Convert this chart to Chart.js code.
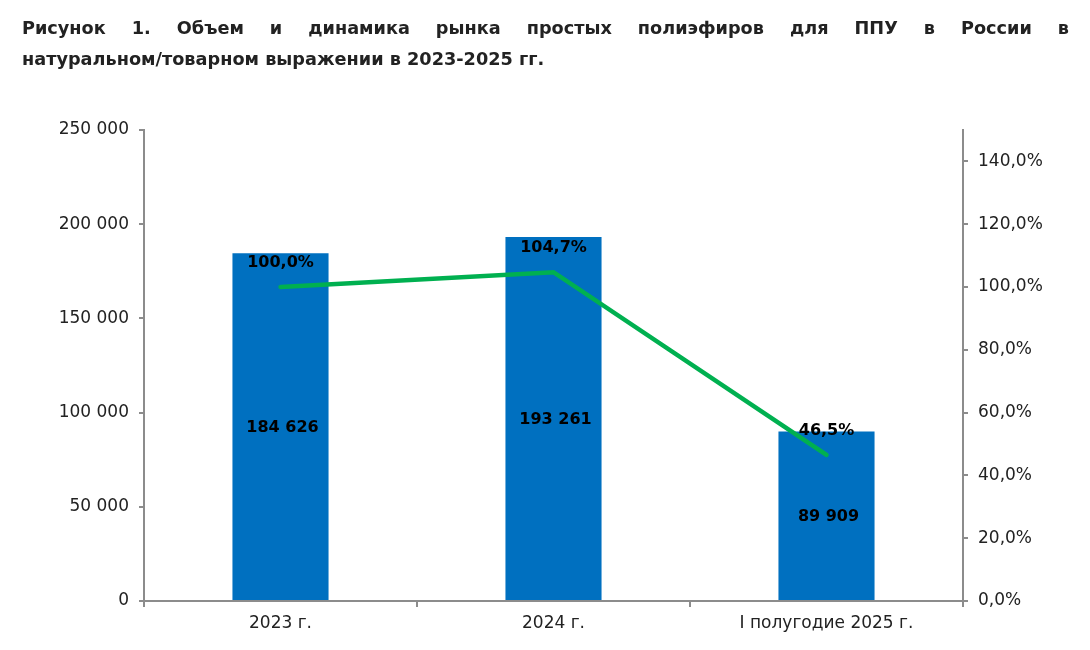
<!DOCTYPE html>
<html>
<head>
    <meta charset="utf-8">
    <title>Рынок простых полиэфиров</title>
    <style>
        body { margin: 0; background: #fff; }
        #wrap { position: relative; width: 1090px; height: 650px; }
        #title {
            position: absolute; left: 22px; top: 13px; width: 1047px;
            font-family: "DejaVu Sans", sans-serif; font-weight: bold; font-size: 17.7px;
            line-height: 31px; color: #222;
        }
        #title .l1 { text-align: justify; text-align-last: justify; }
        #myChart { position: absolute; left: 0; top: 0; }
    </style>
</head>
<body>
    <div id="wrap">
        <canvas id="myChart" width="1090" height="650"></canvas>
        <div id="title">
            <div class="l1">Рисунок 1. Объем и динамика рынка простых полиэфиров для ППУ в России в</div>
            <div>натуральном/товарном выражении в 2023-2025 гг.</div>
        </div>
    </div>
    <script src="https://cdn.jsdelivr.net/npm/chart.js"></script>
    <script>
        const categories = ['2023 г.', '2024 г.', 'I полугодие 2025 г.'];
        const volume = [184626, 193261, 89909];
        const dynamics = [100.0, 104.7, 46.5];

        const fontFamily = '"DejaVu Sans", sans-serif';
        const axisColor = '#8c8c8c';

        const fmtNum = (v) => String(v).replace(/\B(?=(\d{3})+(?!\d))/g, ' ');
        const fmtPct = (v) => v.toFixed(1).replace('.', ',') + '%';

        // labels on bars and above the line
        const valueLabels = {
            id: 'valueLabels',
            afterDatasetsDraw(chart) {
                const ctx = chart.ctx;
                ctx.save();
                ctx.font = 'bold 16px ' + fontFamily;
                ctx.fillStyle = '#000';
                ctx.textAlign = 'center';
                ctx.textBaseline = 'middle';
                chart.getDatasetMeta(1).data.forEach((bar, i) => {
                    ctx.fillText(fmtNum(volume[i]), bar.x + 2, (bar.y + bar.base) / 2 + 1);
                });
                chart.getDatasetMeta(0).data.forEach((pt, i) => {
                    ctx.fillText(fmtPct(dynamics[i]), pt.x, pt.y - 24);
                });
                ctx.restore();
            }
        };

        new Chart(document.getElementById('myChart'), {
            data: {
                labels: categories,
                datasets: [{
                    type: 'line',
                    data: dynamics,
                    yAxisID: 'y2',
                    borderColor: '#00b050',
                    borderWidth: 4.5,
                    borderCapStyle: 'round',
                    pointRadius: 0,
                    order: 1
                }, {
                    type: 'bar',
                    data: volume,
                    yAxisID: 'y',
                    backgroundColor: '#0070c0',
                    categoryPercentage: 1,
                    barPercentage: 0.352,
                    order: 2
                }]
            },
            options: {
                responsive: false,
                animation: false,
                layout: { padding: { top: 130, left: 0, right: 0, bottom: 0 } },
                plugins: { legend: { display: false }, tooltip: { enabled: false } },
                scales: {
                    x: {
                        offset: true,
                        grid: { offset: true, drawOnChartArea: false, color: axisColor, lineWidth: 2, tickLength: 6 },
                        border: { color: axisColor, width: 2 },
                        ticks: { color: '#222', font: { family: fontFamily, size: 17 }, padding: 6 },
                        afterFit(scale) { scale.height = 49; }
                    },
                    y: {
                        position: 'left',
                        min: 0, max: 250000,
                        ticks: { stepSize: 50000, color: '#222', font: { family: fontFamily, size: 17 }, padding: 10,
                            callback: (v) => fmtNum(v) },
                        grid: { drawOnChartArea: false, color: axisColor, lineWidth: 2, tickLength: 5 },
                        border: { color: axisColor, width: 2 },
                        afterFit(scale) { scale.width = 144; }
                    },
                    y2: {
                        position: 'right',
                        min: 0, max: 150,
                        ticks: { stepSize: 20, color: '#222', font: { family: fontFamily, size: 17 }, padding: 10,
                            callback: (v) => fmtPct(v) },
                        afterBuildTicks(scale) {
                            scale.ticks = [0, 20, 40, 60, 80, 100, 120, 140].map(v => ({ value: v }));
                        },
                        grid: { drawOnChartArea: false, color: axisColor, lineWidth: 2, tickLength: 5 },
                        border: { color: axisColor, width: 2 },
                        afterFit(scale) { scale.width = 127; }
                    }
                }
            },
            plugins: [valueLabels]
        });
    </script>
</body>
</html>
